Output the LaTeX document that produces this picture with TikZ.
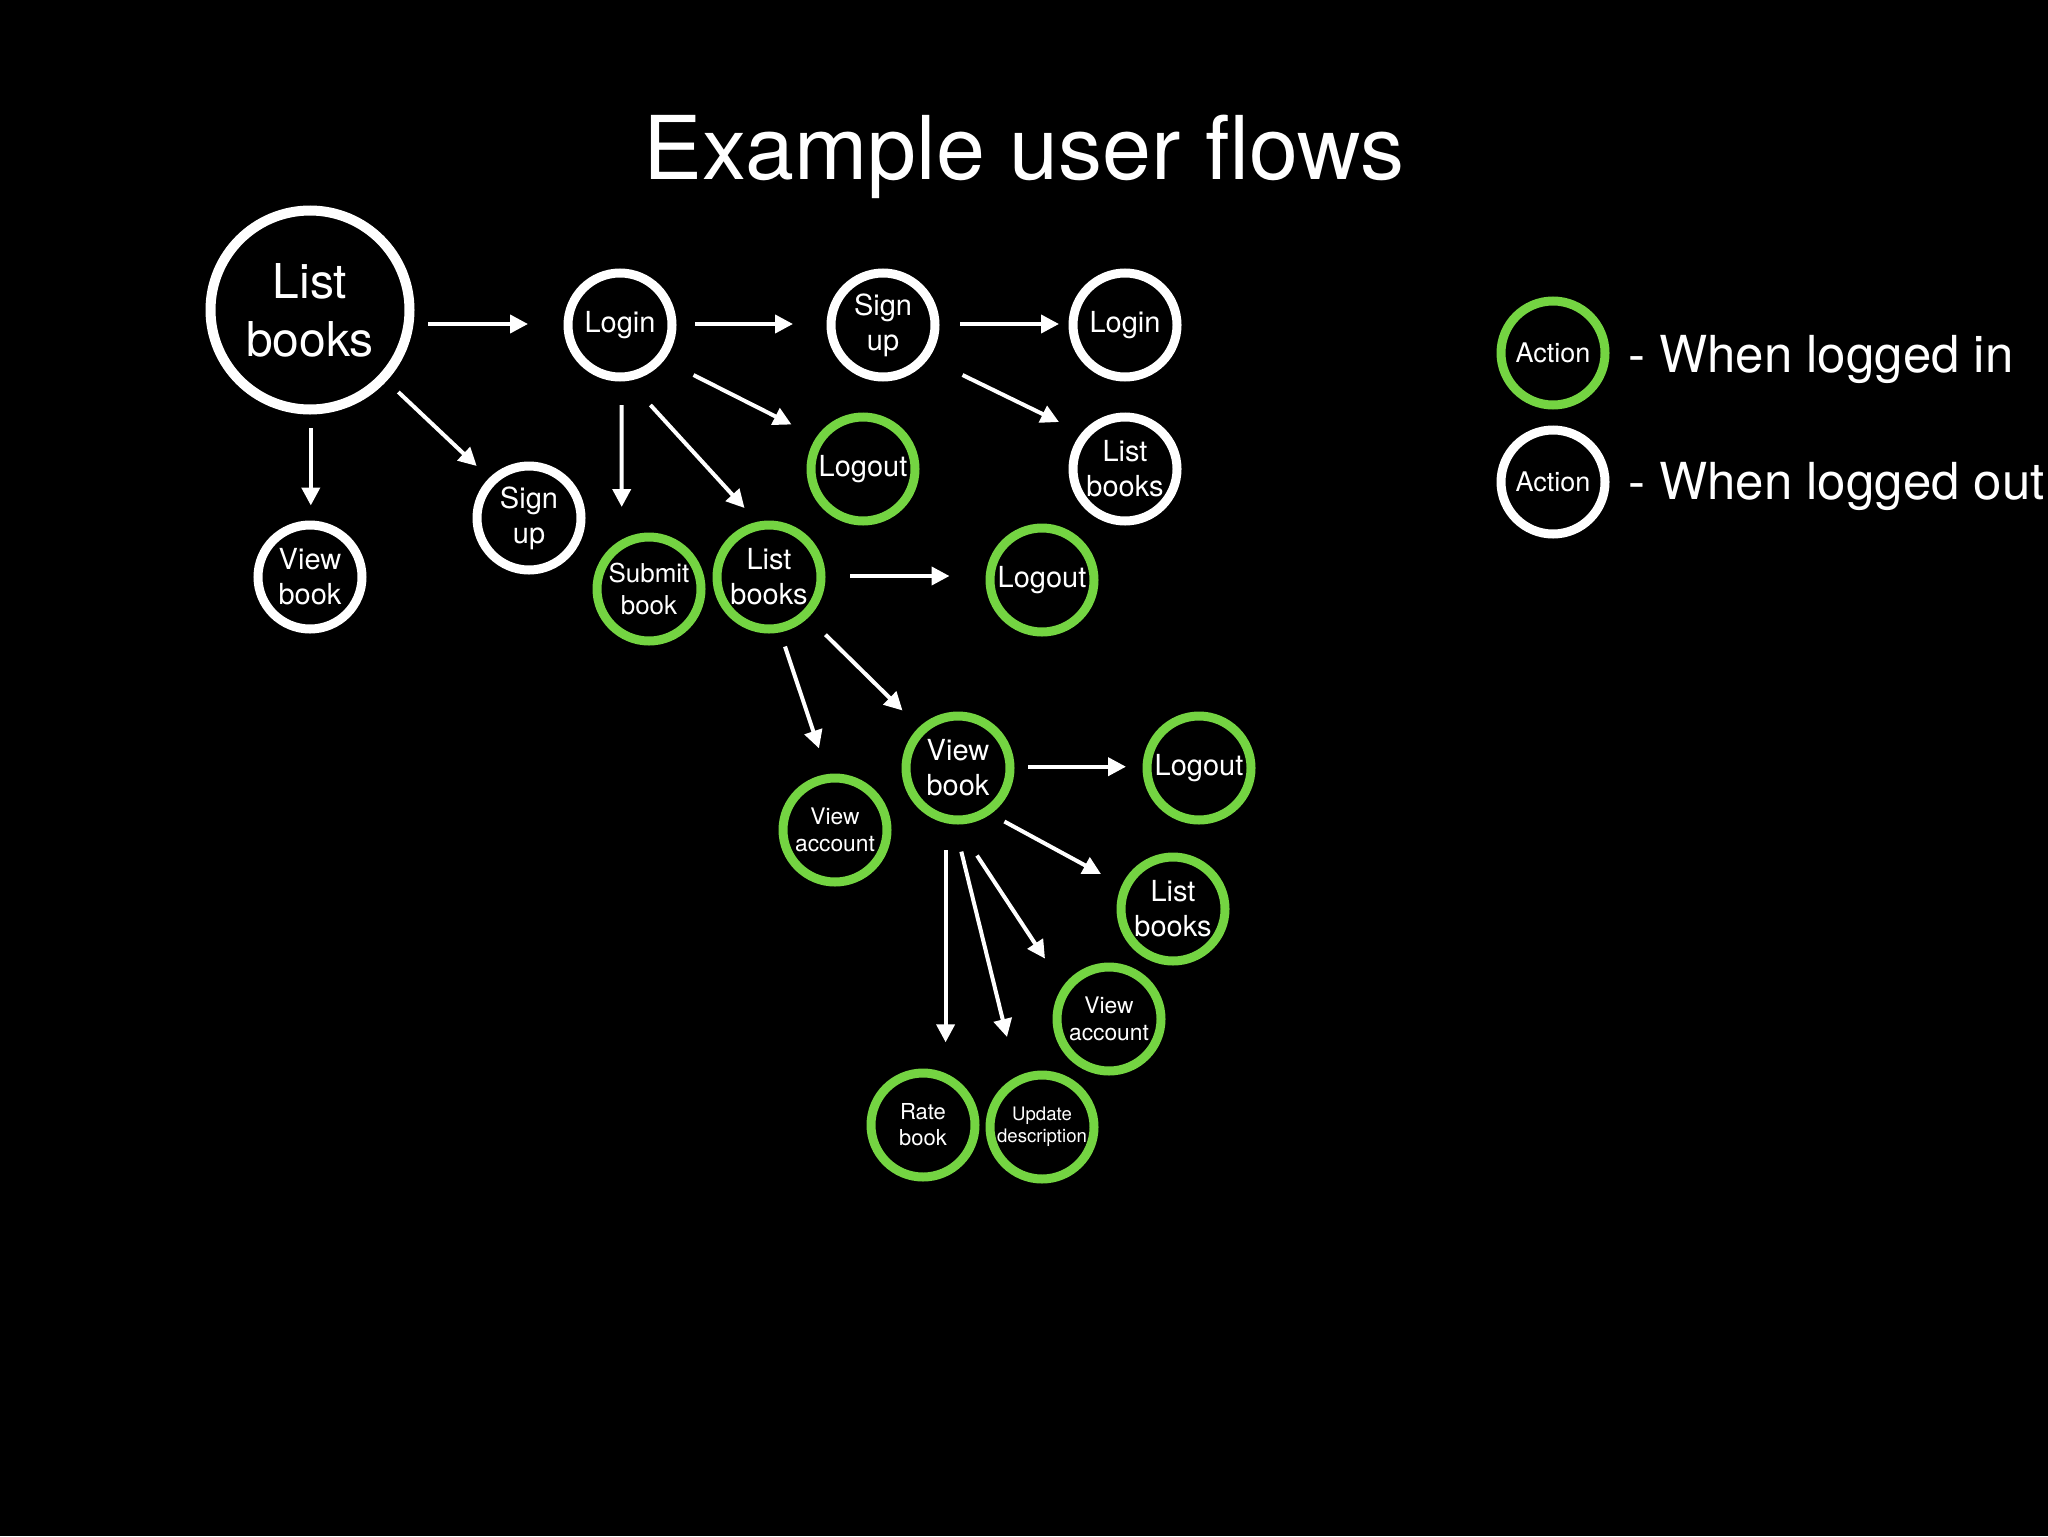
\documentclass[tikz,border=0pt]{standalone}
\usepackage{fontspec}
\setmainfont{TeX Gyre Heros}
\usetikzlibrary{arrows.meta,calc}
\definecolor{grn}{RGB}{116,212,66}
\begin{document}
\begin{tikzpicture}[x=0.5pt,y=-0.5pt,
  act/.style={circle,line width=4.5pt,minimum size=52pt,inner sep=0pt,text=white,align=center,font=\fontsize{14.5}{17.5}\selectfont},
  outst/.style={act,draw=white},
  inst/.style={act,draw=grn},
  arr/.style={draw=white,line width=2pt,-{Triangle[length=9pt,width=9pt]}},
  legtxt/.style={text=white,anchor=base west,font=\fontsize{25.5}{30}\selectfont},
  ]
\fill[black] (0,0) rectangle (2048,1536);
\useasboundingbox (0,0) rectangle (2048,1536);

\node[text=white,font=\fontsize{44}{50}\selectfont,anchor=base] (title) at (1024,179) {Example user flows};

% logged-out nodes
\node[outst,line width=5pt,minimum size=99.5pt,font=\fontsize{24}{29}\selectfont] (lb0) at (310,310) {List\\books};
\node[outst] (login1) at (620,325) {Login};
\node[outst] (signup1) at (883,325) {Sign\\up};
\node[outst] (login2) at (1125,325) {Login};
\node[outst] (lb2) at (1125,469) {List\\books};
\node[outst] (signup2) at (529,518) {Sign\\up};
\node[outst] (vb0) at (310,577) {View\\book};

% logged-in nodes
\node[inst] (logout1) at (863,469) {Logout};
\node[inst,font=\fontsize{13}{16}\selectfont] (submit) at (649,589) {Submit\\book};
\node[inst] (lb3) at (769,577) {List\\books};
\node[inst] (logout2) at (1042,580) {Logout};
\node[inst] (vb) at (958,768) {View\\book};
\node[inst,font=\fontsize{11.4}{13.5}\selectfont] (va1) at (835,830) {View\\account};
\node[inst] (logout3) at (1199,768) {Logout};
\node[inst] (lb4) at (1173,909) {List\\books};
\node[inst,font=\fontsize{11.4}{13.5}\selectfont] (va2) at (1109,1019) {View\\account};
\node[inst,font=\fontsize{11}{13}\selectfont] (rate) at (923,1125) {Rate\\book};
\node[inst,font=\fontsize{9.3}{11}\selectfont] (update) at (1042,1127) {Update\\description};

% legend
\node[inst,font=\fontsize{13.5}{16}\selectfont] (legin) at (1553,353) {Action};
\node[outst,font=\fontsize{13.5}{16}\selectfont] (legout) at (1553,482) {Action};
\node[legtxt] (legintxt) at (1621,372) {- When logged in};
\node[legtxt] (legouttxt) at (1621,499) {- When logged out};

% connectors
\draw[arr] ($(lb0)+(118,14)$) -- ($(login1)+(-92,-1)$);
\draw[arr] ($(login1)+(75,-1)$) -- ($(signup1)+(-90,-1)$);
\draw[arr] ($(signup1)+(77,-1)$) -- ($(login2)+(-66,-1)$);
\draw[arr] ($(signup1)+(79.5,50)$) -- ($(lb2)+(-66,-47)$);
\draw[arr] ($(login1)+(73.5,50)$) -- ($(logout1)+(-71.5,-44.5)$);
\draw[arr] ($(login1)+(1.7,80)$) -- ($(submit)+(-27.3,-82)$);
\draw[arr] ($(login1)+(30.4,80)$) -- ($(lb3)+(-24.5,-69)$);
\draw[arr] ($(lb0)+(88.3,82)$) -- ($(signup2)+(-52.3,-52)$);
\draw[arr] ($(lb0)+(0.8,118.4)$) -- ($(vb0)+(0.8,-71.5)$);
\draw[arr] ($(lb3)+(81,-1)$) -- ($(logout2)+(-92.5,-4)$);
\draw[arr] ($(lb3)+(56.5,57.7)$) -- ($(vb)+(-55.5,-57.5)$);
\draw[arr] ($(lb3)+(16,69.5)$) -- ($(va1)+(-16,-81.6)$);
\draw[arr] ($(vb)+(70,-1.3)$) -- ($(logout3)+(-73,-1.3)$);
\draw[arr] ($(vb)+(46.4,53.5)$) -- ($(lb4)+(-72,-35)$);
\draw[arr] ($(vb)+(19,87.5)$) -- ($(va2)+(-64,-60.4)$);
\draw[arr] ($(vb)+(3.3,83.6)$) -- ($(update)+(-35,-90)$);
\draw[arr] ($(vb)+(-12.4,82.3)$) -- ($(rate)+(22.6,-82.7)$);
\end{tikzpicture}
\end{document}
